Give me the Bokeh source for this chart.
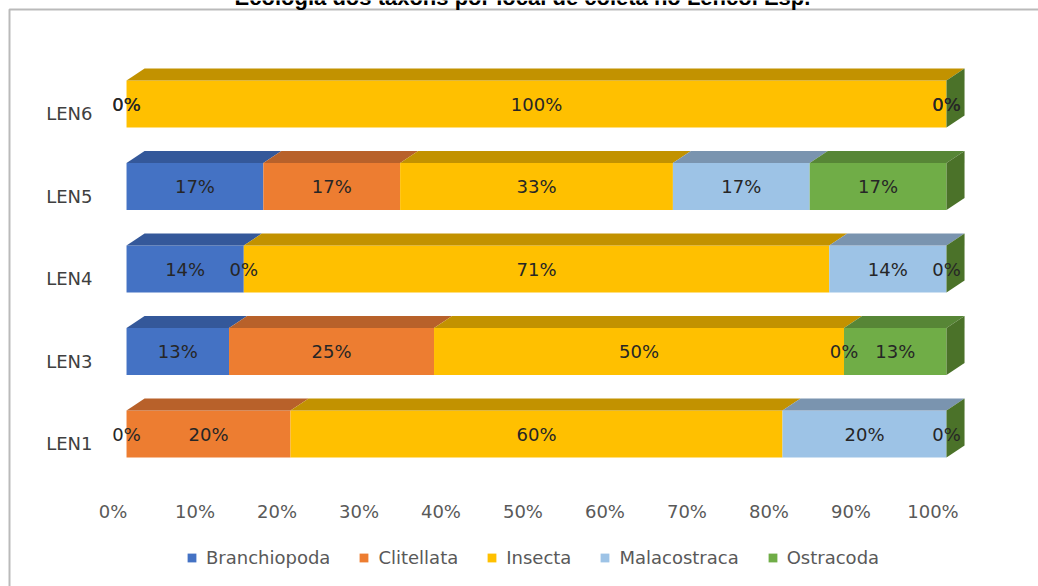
import numpy as np
from bokeh.plotting import figure
from bokeh.models import (ColumnDataSource, Range1d, FixedTicker, PrintfTickFormatter,
                          Legend, LegendItem, Label, BoxAnnotation)
from bokeh.transform import dodge
from bokeh.core.properties import value
from bokeh.embed import file_html
from bokeh.resources import INLINE

# ---------------- data ----------------
categories = ["LEN1", "LEN3", "LEN4", "LEN5", "LEN6"]          # bottom -> top
series_names = ["Branchiopoda", "Clitellata", "Insecta", "Malacostraca", "Ostracoda"]
branchiopoda = [0.0, 12.5, 14.3, 16.7, 0.0]
clitellata = [20.0, 25.0, 0.0, 16.7, 0.0]
insecta = [60.0, 50.0, 71.4, 33.3, 100.0]
malacostraca = [20.0, 0.0, 14.3, 16.7, 0.0]
ostracoda = [0.0, 12.5, 0.0, 16.7, 0.0]
x_ticks = [0, 10, 20, 30, 40, 50, 60, 70, 80, 90, 100]
title_text = "Ecologia dos táxons por local de coleta no Lencol Esp."

series_values = [branchiopoda, clitellata, insecta, malacostraca, ostracoda]
front_colors = ["#4472C4", "#ED7D31", "#FFC000", "#9DC3E6", "#70AD47"]
top_colors = ["#34589A", "#B8612A", "#C29200", "#7A94AF", "#578636"]
side_color = "#4B7229"

# 3-D look (style constants)
XOFF, DX = 1.65, 2.2        # in percent units
YOFF, BAR_H, DY = 0.115, 0.57, 0.145

FONT = "DejaVu Sans"
FS = "18px"

# the plotting frame fills the whole canvas; axes are drawn at fixed locations
W, H = 1038, 586
p = figure(width=W, height=H, output_backend="svg", toolbar_location=None,
           x_range=Range1d(-13.72, 112.87), y_range=Range1d(-1.7333, 5.3697),
           min_border=0, min_border_left=0, min_border_right=0,
           min_border_top=0, min_border_bottom=0)
p.grid.visible = False
p.outline_line_color = None
p.background_fill_color = "white"
p.border_fill_color = "white"

ypos = [float(i) for i in range(len(categories))]
vals = np.array(series_values, dtype=float)           # series x category
totals = vals.sum(axis=0)
shares = vals / totals * 100.0
cum_right = np.cumsum(shares, axis=0)
cum_left = cum_right - shares
ny = np.array(ypos)

legend_items = []
label_sources = []
for i, name in enumerate(series_names):
    src = ColumnDataSource(dict(
        y=ypos, left=list(cum_left[i]), right=list(cum_right[i]),
        xc=list((cum_left[i] + cum_right[i]) / 2.0),
        lbl=["%d%%" % int(v + 0.5) for v in vals[i]],
    ))
    r = p.hbar(y=dodge("y", YOFF), left=dodge("left", XOFF), right=dodge("right", XOFF),
               height=BAR_H, fill_color=front_colors[i], line_color=None, source=src)
    legend_items.append(LegendItem(label=name, renderers=[r]))
    label_sources.append(src)
    # top face
    t = ny + YOFF + BAR_H / 2.0
    l = cum_left[i] + XOFF
    rr = cum_right[i] + XOFF
    top_src = ColumnDataSource(dict(
        xs=[[l[k], rr[k], rr[k] + DX, l[k] + DX] for k in range(len(categories))],
        ys=[[t[k], t[k], t[k] + DY, t[k] + DY] for k in range(len(categories))],
    ))
    p.patches("xs", "ys", source=top_src, fill_color=top_colors[i], line_color=None)

# right side face
R = cum_right[-1] + XOFF
b = ny + YOFF - BAR_H / 2.0
t = ny + YOFF + BAR_H / 2.0
side_src = ColumnDataSource(dict(
    xs=[[R[k], R[k] + DX, R[k] + DX, R[k]] for k in range(len(categories))],
    ys=[[b[k], b[k] + DY, t[k] + DY, t[k]] for k in range(len(categories))],
))
p.patches("xs", "ys", source=side_src, fill_color=side_color, line_color=None)

# data labels
for src in label_sources:
    p.text(x=dodge("xc", XOFF), y=dodge("y", YOFF), text="lbl", source=src,
           text_align="center", text_baseline="middle",
           text_font=value(FONT), text_font_size=FS, text_color="#262626")

# axes (drawn inside the full-canvas frame at fixed positions)
p.xaxis.fixed_location = -0.7515
p.yaxis.fixed_location = -1.524
p.xaxis.ticker = FixedTicker(ticks=x_ticks)
p.xaxis.formatter = PrintfTickFormatter(format="%d%%")
p.yaxis.ticker = FixedTicker(ticks=ypos)
p.yaxis.major_label_overrides = {i: c for i, c in enumerate(categories)}
for ax in (p.xaxis[0], p.yaxis[0]):
    ax.axis_line_color = None
    ax.major_tick_line_color = None
    ax.minor_tick_line_color = None
    ax.major_tick_out = 0
    ax.major_tick_in = 0
    ax.major_label_text_font = FONT
    ax.major_label_text_font_size = FS
p.xaxis.major_label_text_color = "#595959"
p.xaxis.major_label_standoff = -5
p.yaxis.major_label_text_color = "#404040"
p.yaxis.major_label_standoff = 8

legend = Legend(items=legend_items, orientation="horizontal", location=(186, 18),
                label_text_font=FONT, label_text_font_size=FS, label_text_color="#595959",
                glyph_width=11, glyph_height=11, spacing=28, label_standoff=9,
                border_line_alpha=0, background_fill_alpha=0, padding=0, margin=0)
p.add_layout(legend, "center")

# chart border and cropped title
p.add_layout(BoxAnnotation(left=9, right=1200, top=H - 9, bottom=-100,
                           left_units="screen", right_units="screen",
                           top_units="screen", bottom_units="screen",
                           fill_alpha=0, line_color="#1a1a1a", line_width=2))
p.add_layout(Label(x=522, y=H + 3, x_units="screen", y_units="screen", text=title_text,
                   text_align="center", text_baseline="alphabetic",
                   text_font="Liberation Sans", text_font_style="bold",
                   text_font_size="22px", text_color="black"))

open("out.html", "w").write(file_html(p, INLINE))
